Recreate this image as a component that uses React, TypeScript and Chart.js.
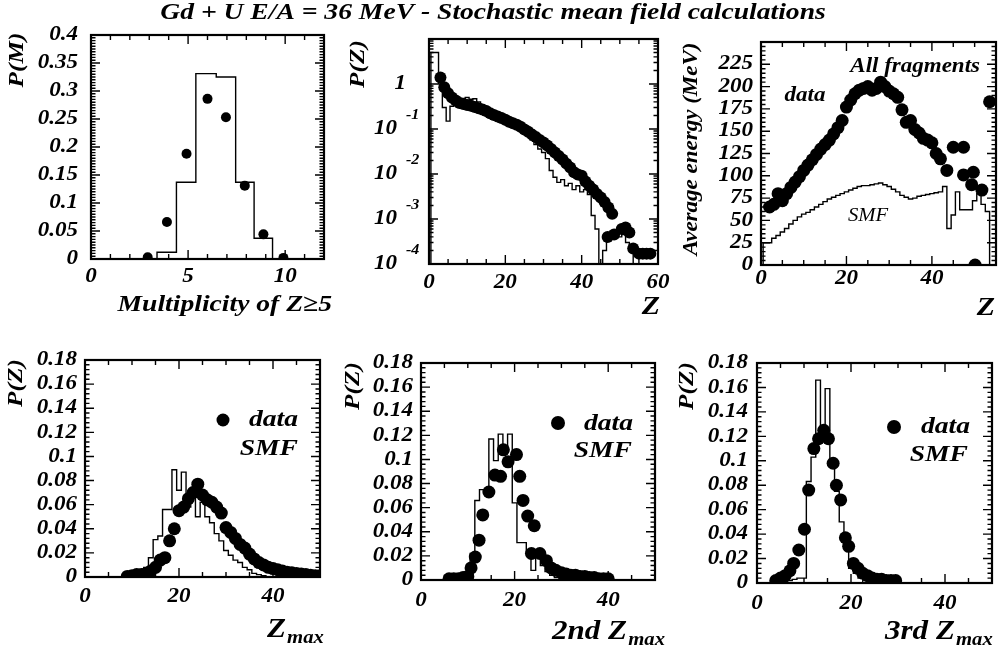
import React, { useEffect, useRef } from "react";
import { Chart, registerables } from "chart.js";
Chart.register(...registerables);

const W = 1005;
const H = 656;
const SERIF = '"Liberation Serif", "Times New Roman", serif';
const SX = 1.15;

// ---------- Panel 1 : multiplicity of Z>=5 ----------
const multM = [2.92, 3.91, 4.92, 6.0, 6.95, 7.92, 8.88, 9.91];
const multP = [0.003, 0.066, 0.188, 0.286, 0.253, 0.131, 0.044, 0.002];
const multSmfEdges = [3.4, 4.4, 5.4, 6.45, 7.45, 8.4, 9.35];
const multSmfP = [0.012, 0.137, 0.331, 0.325, 0.137, 0.037];
const p1XTicks = [0, 5, 10];
const p1XLabels = ["0", "5", "10"];
const p1YTicks = [0, 0.05, 0.1, 0.15, 0.2, 0.25, 0.3, 0.35, 0.4];
const p1YLabels = ["0", "0.05", "0.1", "0.15", "0.2", "0.25", "0.3", "0.35", "0.4"];

// ---------- Panel 2 : P(Z) log ----------
const chargeZ = [3, 4, 5, 6, 7, 8, 9, 10, 11, 12, 13, 14, 15, 16, 17, 18, 19, 20, 21, 22, 23, 24, 25, 26, 27, 28, 29, 30, 31, 32, 33, 34, 35, 36, 37, 38, 39, 40, 41, 42, 43, 44, 45, 46, 47, 48,
  46.8, 48.5, 50.5, 51.5, 52.5, 53.5, 55, 56, 57, 58];
const chargeP = [1.4, 0.85, 0.62, 0.5, 0.43, 0.38, 0.36, 0.34, 0.33, 0.31, 0.29, 0.27, 0.25, 0.225, 0.205, 0.19, 0.175, 0.16, 0.145, 0.135, 0.125, 0.112, 0.098, 0.087, 0.075, 0.066, 0.057, 0.05, 0.043, 0.036, 0.03, 0.025, 0.021, 0.017, 0.014, 0.011, 0.0098, 0.0092, 0.0068, 0.0055, 0.0045, 0.0036, 0.003, 0.0024, 0.0018, 0.0013,
  0.0004, 0.00045, 0.0006, 0.00065, 0.0005, 0.00022, 0.00017, 0.00017, 0.00017, 0.00017];
const chargeSmfZ = [1, 2, 3, 4, 5, 6, 7, 8, 9, 10, 11, 12, 13, 14, 15, 16, 17, 18, 19, 20, 21, 22, 23, 24, 25, 26, 27, 28, 29, 30, 31, 32, 33, 34, 35, 36, 37, 38, 39, 40, 41, 42, 43, 44, 45, 46, 47, 48, 49, 50, 51, 52, 53];
const chargeSmfP = [5.0, 5.0, 1.0, 0.3, 0.15, 0.32, 0.38, 0.45, 0.48, 0.5, 0.46, 0.47, 0.4, 0.34, 0.29, 0.25, 0.22, 0.2, 0.175, 0.16, 0.14, 0.125, 0.115, 0.1, 0.085, 0.07, 0.057, 0.045, 0.036, 0.03, 0.022, 0.012, 0.0085, 0.0065, 0.0075, 0.0055, 0.0062, 0.0045, 0.0055, 0.004, 0.0045, 0.0035, 0.0012, 0.0006, 0.0001, 0.0002, 0.0004, 0.0004, 0.0005, 0.0004, 0.00045, 0.0003, 0.0002];
const p2XTicks = [0, 20, 40, 60];
const p2XLabels = ["0", "20", "40", "60"];
const p2YTicks = [1, 0.1, 0.01, 0.001, 0.0001];
const p2YLabels = ["1", "10", "10", "10", "10"];
const p2YExp = ["", "-1", "-2", "-3", "-4"];

// ---------- Panel 3 : average energy ----------
const energyZ = [2, 3, 4, 5, 6, 7, 8, 9, 10, 11, 12, 13, 14, 15, 16, 17, 18, 19, 20, 21, 22, 23, 24, 25, 26, 27, 28, 29, 30, 31, 32, 33, 34, 35, 36, 37, 38, 39, 40, 41, 42, 43.5, 45, 47.4, 47.4, 49.7, 49.3, 51.7, 53.5, 50.1];
const energyE = [65, 68, 80, 72, 80, 87, 93, 99, 106, 112, 118, 124, 130, 135, 140, 147, 154, 162, 177, 185, 192, 196, 198, 200, 196, 198, 205, 200, 195, 192, 188, 174, 160, 162, 152, 148, 142, 140, 137, 125, 119, 106, 132, 132, 101, 104, 90, 84, 183, 0];
const energySmfZ = [1, 2, 3, 4, 5, 6, 7, 8, 9, 10, 11, 12, 13, 14, 15, 16, 17, 18, 19, 20, 21, 22, 23, 24, 25, 26, 27, 28, 29, 30, 31, 32, 33, 34, 35, 36, 37, 38, 39, 40, 41, 42, 43, 44, 45, 46, 47, 48, 49, 50, 51, 52, 53];
const energySmfE = [25, 25, 30, 33, 37, 41, 46, 50, 54, 57, 59, 62, 65, 68, 71, 74, 76, 78, 80, 82, 84, 86, 88, 89, 89, 90, 91, 92, 90, 88, 85, 82, 78, 76, 74, 75, 77, 78, 79, 80, 81, 82, 88, 41, 56, 82, 62, 62, 62, 72, 80, 68, 60];
const p3XTicks = [0, 20, 40];
const p3XLabels = ["0", "20", "40"];
const p3YTicks = [0, 25, 50, 75, 100, 125, 150, 175, 200, 225];
const p3YLabels = ["0", "25", "50", "75", "100", "125", "150", "175", "200", "225"];

// ---------- Panel 4 : Zmax ----------
const zmaxZ = [9, 10, 11, 12, 13, 14, 15, 16, 17, 18, 19, 20, 21, 22, 23, 24, 25, 26, 27, 28, 29, 30, 31, 32, 33, 34, 35, 36, 37, 38, 39, 40, 41, 42, 43, 44, 45, 46, 47, 48, 49, 50];
const zmaxP = [0.0005, 0.001, 0.002, 0.002, 0.003, 0.005, 0.008, 0.014, 0.016, 0.03, 0.04, 0.055, 0.058, 0.065, 0.07, 0.077, 0.068, 0.064, 0.062, 0.058, 0.053, 0.041, 0.037, 0.032, 0.027, 0.024, 0.019, 0.015, 0.012, 0.01, 0.008, 0.007, 0.006, 0.005, 0.004, 0.0035, 0.003, 0.0025, 0.002, 0.0015, 0.001, 0.001];
const zmaxSmfZ = [9, 10, 11, 12, 13, 14, 15, 16, 17, 18, 19, 20, 21, 22, 23, 24, 25, 26, 27, 28, 29, 30, 31, 32, 33, 34, 35, 36, 37, 38];
const zmaxSmfP = [0.001, 0.002, 0.002, 0.004, 0.008, 0.016, 0.031, 0.034, 0.056, 0.056, 0.089, 0.072, 0.087, 0.058, 0.066, 0.05, 0.062, 0.05, 0.045, 0.036, 0.03, 0.022, 0.018, 0.014, 0.012, 0.008, 0.006, 0.003, 0.002, 0.001];

// ---------- Panel 5 : 2nd Zmax ----------
const zmax2Z = [6, 7, 8, 9, 10, 10.7, 11.6, 12.4, 13.2, 14.5, 15.8, 17.0, 17.6, 18.6, 20.4, 21.1, 21.8, 22.8, 24.2, 23.6, 25.4, 26.8, 27.8, 28.8, 30, 31, 32, 33, 34, 35, 36, 37, 38, 39, 40];
const zmax2P = [0.001, 0.001, 0.001, 0.002, 0.003, 0.01, 0.019, 0.033, 0.054, 0.073, 0.087, 0.086, 0.108, 0.098, 0.104, 0.086, 0.066, 0.053, 0.045, 0.022, 0.022, 0.016, 0.01, 0.008, 0.006, 0.005, 0.004, 0.004, 0.003, 0.003, 0.002, 0.002, 0.001, 0.001, 0.001];
const zmax2SmfZ = [9, 10, 11, 12, 13, 14, 15, 16, 17, 18, 19, 20, 21, 22, 23, 24, 25, 26, 27, 28, 29, 30];
const zmax2SmfP = [0.001, 0.002, 0.022, 0.066, 0.075, 0.075, 0.117, 0.099, 0.121, 0.106, 0.121, 0.064, 0.031, 0.031, 0.022, 0.008, 0.02, 0.012, 0.007, 0.004, 0.002, 0.001];

// ---------- Panel 6 : 3rd Zmax ----------
const zmax3Z = [4, 5, 6, 7, 7.8, 8.9, 10.1, 11, 12.1, 13.1, 14.2, 15.2, 16.2, 16.9, 17.8, 18.8, 19.5, 20.5, 21.5, 22.5, 23.5, 24.5, 25.5, 26.5, 27.5, 28.5, 29.5];
const zmax3P = [0.002, 0.004, 0.006, 0.01, 0.016, 0.027, 0.044, 0.076, 0.11, 0.118, 0.125, 0.118, 0.098, 0.08, 0.068, 0.037, 0.03, 0.016, 0.012, 0.008, 0.006, 0.004, 0.003, 0.003, 0.002, 0.002, 0.002];
const zmax3SmfZ = [5, 6, 7, 8, 9, 10, 11, 12, 13, 14, 15, 16, 17, 18, 19, 20, 21, 22];
const zmax3SmfP = [0.001, 0.001, 0.002, 0.003, 0.004, 0.004, 0.083, 0.103, 0.166, 0.128, 0.159, 0.1, 0.075, 0.05, 0.03, 0.012, 0.008, 0.004];

const zXTicks = [0, 20, 40];
const zXLabels = ["0", "20", "40"];
const zYTicks = [0, 0.02, 0.04, 0.06, 0.08, 0.1, 0.12, 0.14, 0.16, 0.18];
const zYLabels = ["0", "0.02", "0.04", "0.06", "0.08", "0.1", "0.12", "0.14", "0.16", "0.18"];

// ---------- helpers ----------
function pts(xs: number[], ys: number[]) {
  return xs.map((x, i) => ({ x, y: ys[i] }));
}
function stepEdges(edges: number[], vals: number[], base: number) {
  const out = [{ x: edges[0], y: base }];
  vals.forEach((v, i) => out.push({ x: edges[i], y: v }));
  out.push({ x: edges[edges.length - 1], y: base });
  return out;
}
function stepCentres(cs: number[], vals: number[], base: number) {
  const edges = cs.map((c) => c - 0.5);
  edges.push(cs[cs.length - 1] + 0.5);
  return stepEdges(edges, vals, base);
}
function dotSet(data: any[], r: number) {
  return { type: "scatter", data, pointRadius: r, pointHoverRadius: r, pointBackgroundColor: "#000", pointBorderColor: "#000", pointBorderWidth: 0, showLine: false, order: 0 };
}
function histSet(data: any[]) {
  return { type: "line", data, stepped: true, borderColor: "#000", borderWidth: 1.4, pointRadius: 0, fill: false, tension: 0, order: 1 };
}

type Txt = { s: string; x: number; y: number; size: number; align?: CanvasTextAlign; rot?: boolean; weight?: string; sub?: string; subSize?: number };

function font(size: number, weight = "bold") {
  return `italic ${weight} ${size}px ${SERIF}`;
}
function drawTxt(ctx: CanvasRenderingContext2D, t: Txt) {
  ctx.save();
  ctx.fillStyle = "#000";
  ctx.translate(t.x, t.y);
  if (t.rot) ctx.rotate(-Math.PI / 2);
  ctx.scale(SX, 1);
  ctx.font = font(t.size, t.weight || "bold");
  ctx.textBaseline = "middle";
  if (t.sub) {
    ctx.textAlign = "left";
    ctx.fillText(t.s, 0, 0);
    const w = ctx.measureText(t.s).width;
    ctx.font = font(t.subSize || 16, t.weight || "bold");
    ctx.fillText(t.sub, w + 1, t.size * 0.3);
  } else {
    ctx.textAlign = t.align || "center";
    ctx.fillText(t.s, 0, 0);
  }
  ctx.restore();
}

type Axis = { min: number; max: number; minor: number; major: number; log?: boolean };
type Cfg = {
  area: { l: number; t: number; r: number; b: number };
  x: Axis;
  y: Axis;
  xTicks: number[];
  xLabels: string[];
  xLabelDy: number;
  yTicks: number[];
  yLabels: string[];
  yLabelDx: number;
  yExp?: string[];
  texts: Txt[];
  legendDot?: { x: number; y: number; r: number };
  datasets: any[];
};

function tickValues(a: Axis) {
  const out: { v: number; major: boolean }[] = [];
  if (a.log) {
    for (let e = Math.round(Math.log10(a.min)); e < Math.round(Math.log10(a.max)); e++) {
      for (let k = 1; k <= 9; k++) out.push({ v: k * Math.pow(10, e), major: k === 1 });
    }
    out.push({ v: a.max, major: true });
    return out;
  }
  const n = Math.round((a.max - a.min) / a.minor);
  for (let i = 0; i <= n; i++) {
    const v = a.min + i * a.minor;
    const q = v / a.major;
    out.push({ v, major: Math.abs(q - Math.round(q)) < 1e-6 });
  }
  return out;
}

function decoPlugin(cfg: Cfg) {
  return {
    id: "deco",
    afterDatasetsDraw(chart: any) {
      const ctx: CanvasRenderingContext2D = chart.ctx;
      const { left, top, right, bottom } = chart.chartArea;
      const xs = chart.scales.x;
      const ys = chart.scales.y;
      ctx.save();
      ctx.strokeStyle = "#000";
      ctx.lineWidth = 1.4;
      ctx.beginPath();
      for (const t of tickValues(cfg.x)) {
        const px = xs.getPixelForValue(t.v);
        if (px < left - 0.5 || px > right + 0.5) continue;
        const len = t.major ? 9 : 5;
        ctx.moveTo(px, bottom);
        ctx.lineTo(px, bottom - len);
        ctx.moveTo(px, top);
        ctx.lineTo(px, top + len);
      }
      for (const t of tickValues(cfg.y)) {
        const py = ys.getPixelForValue(t.v);
        if (py < top - 0.5 || py > bottom + 0.5) continue;
        const len = t.major ? 9 : 4.5;
        ctx.moveTo(left, py);
        ctx.lineTo(left + len, py);
        ctx.moveTo(right, py);
        ctx.lineTo(right - len, py);
      }
      ctx.stroke();
      ctx.lineWidth = 2.2;
      ctx.strokeRect(left, top, right - left, bottom - top);

      // tick labels
      cfg.xTicks.forEach((v, i) => {
        drawTxt(ctx, { s: cfg.xLabels[i], x: xs.getPixelForValue(v), y: bottom + cfg.xLabelDy, size: 20 });
      });
      cfg.yTicks.forEach((v, i) => {
        const py = ys.getPixelForValue(v);
        if (cfg.yExp) {
          const e = cfg.yExp[i];
          if (e === "") {
            drawTxt(ctx, { s: cfg.yLabels[i], x: left - 23, y: py, size: 20, align: "right" });
          } else {
            drawTxt(ctx, { s: cfg.yLabels[i], x: left + cfg.yLabelDx, y: py, size: 20, align: "right" });
            drawTxt(ctx, { s: e, x: left - 23, y: py - 14, size: 14, align: "left" });
          }
        } else {
          drawTxt(ctx, { s: cfg.yLabels[i], x: left + cfg.yLabelDx, y: py, size: 20, align: "right" });
        }
      });
      if (cfg.legendDot) {
        ctx.fillStyle = "#000";
        ctx.beginPath();
        ctx.arc(cfg.legendDot.x, cfg.legendDot.y, cfg.legendDot.r, 0, Math.PI * 2);
        ctx.fill();
      }
      cfg.texts.forEach((t) => drawTxt(ctx, t));
      ctx.restore();
    },
  };
}

const panels: Cfg[] = [
  {
    area: { l: 91, t: 35, r: 324, b: 259 },
    x: { min: 0, max: 12, minor: 1, major: 5 },
    y: { min: 0, max: 0.4, minor: 0.005, major: 0.05 },
    xTicks: p1XTicks, xLabels: p1XLabels, xLabelDy: 18,
    yTicks: p1YTicks, yLabels: p1YLabels, yLabelDx: -13,
    texts: [
      { s: "Gd + U E/A = 36 MeV - Stochastic mean field calculations", x: 493, y: 13, size: 24 },
      { s: "Multiplicity of Z\u22655", x: 332, y: 305, size: 24, align: "right" },
      { s: "P(M)", x: 17, y: 60, size: 22, rot: true },
    ],
    datasets: [dotSet(pts(multM, multP), 5), histSet(stepEdges(multSmfEdges, multSmfP, 0))],
  },
  {
    area: { l: 429, t: 39, r: 658, b: 264 },
    x: { min: 0, max: 60, minor: 5, major: 20 },
    y: { min: 0.0001, max: 10, minor: 1, major: 1, log: true },
    xTicks: p2XTicks, xLabels: p2XLabels, xLabelDy: 19,
    yTicks: p2YTicks, yLabels: p2YLabels, yLabelDx: -32, yExp: p2YExp,
    texts: [
      { s: "P(Z)", x: 358, y: 64, size: 22, rot: true },
      { s: "Z", x: 660, y: 307, size: 26, align: "right" },
    ],
    datasets: [dotSet(pts(chargeZ, chargeP), 6), histSet(stepCentres(chargeSmfZ, chargeSmfP, 0.0001))],
  },
  {
    area: { l: 761, t: 42, r: 996, b: 265 },
    x: { min: 0, max: 55, minor: 5, major: 20 },
    y: { min: 0, max: 250, minor: 5, major: 25 },
    xTicks: p3XTicks, xLabels: p3XLabels, xLabelDy: 14,
    yTicks: p3YTicks, yLabels: p3YLabels, yLabelDx: -8,
    texts: [
      { s: "Average energy (MeV)", x: 692, y: 149, size: 20, rot: true },
      { s: "Z", x: 995, y: 308, size: 26, align: "right" },
      { s: "All fragments", x: 980, y: 67, size: 20, align: "right" },
      { s: "data", x: 805, y: 96, size: 20 },
      { s: "SMF", x: 868, y: 216, size: 18, weight: "normal" },
    ],
    datasets: [dotSet(pts(energyZ, energyE), 6.5), histSet(stepCentres(energySmfZ, energySmfE, 0))],
  },
  {
    area: { l: 85, t: 360, r: 320, b: 577 },
    x: { min: 0, max: 50, minor: 5, major: 20 },
    y: { min: 0, max: 0.18, minor: 0.004, major: 0.02 },
    xTicks: zXTicks, xLabels: zXLabels, xLabelDy: 20,
    yTicks: zYTicks, yLabels: zYLabels, yLabelDx: -8,
    texts: [
      { s: "P(Z)", x: 16, y: 383, size: 22, rot: true },
      { s: "Z", sub: "max", x: 267, y: 630, size: 27, subSize: 18 },
      { s: "data", x: 298, y: 420, size: 24, align: "right" },
      { s: "SMF", x: 298, y: 449, size: 24, align: "right" },
    ],
    legendDot: { x: 223, y: 420, r: 6.5 },
    datasets: [dotSet(pts(zmaxZ, zmaxP), 6.5), histSet(stepCentres(zmaxSmfZ, zmaxSmfP, 0))],
  },
  {
    area: { l: 421, t: 363, r: 655, b: 580 },
    x: { min: 0, max: 50, minor: 5, major: 20 },
    y: { min: 0, max: 0.18, minor: 0.004, major: 0.02 },
    xTicks: zXTicks, xLabels: zXLabels, xLabelDy: 21,
    yTicks: zYTicks, yLabels: zYLabels, yLabelDx: -8,
    texts: [
      { s: "P(Z)", x: 353, y: 386, size: 22, rot: true },
      { s: "2nd Z", sub: "max", x: 552, y: 632, size: 27, subSize: 18 },
      { s: "data", x: 633, y: 424, size: 24, align: "right" },
      { s: "SMF", x: 632, y: 451, size: 24, align: "right" },
    ],
    legendDot: { x: 558, y: 423, r: 7 },
    datasets: [dotSet(pts(zmax2Z, zmax2P), 6.5), histSet(stepCentres(zmax2SmfZ, zmax2SmfP, 0))],
  },
  {
    area: { l: 757, t: 363, r: 992, b: 583 },
    x: { min: 0, max: 50, minor: 5, major: 20 },
    y: { min: 0, max: 0.18, minor: 0.004, major: 0.02 },
    xTicks: zXTicks, xLabels: zXLabels, xLabelDy: 21,
    yTicks: zYTicks, yLabels: zYLabels, yLabelDx: -9,
    texts: [
      { s: "P(Z)", x: 687, y: 386, size: 22, rot: true },
      { s: "3rd Z", sub: "max", x: 885, y: 632, size: 27, subSize: 18 },
      { s: "data", x: 970, y: 427, size: 24, align: "right" },
      { s: "SMF", x: 968, y: 455, size: 24, align: "right" },
    ],
    legendDot: { x: 894, y: 427, r: 7 },
    datasets: [dotSet(pts(zmax3Z, zmax3P), 6.5), histSet(stepCentres(zmax3SmfZ, zmax3SmfP, 0))],
  },
];

function Panel({ cfg }: { cfg: Cfg }) {
  const ref = useRef<HTMLCanvasElement>(null);
  useEffect(() => {
    const { l, t, r, b } = cfg.area;
    const chart = new Chart(ref.current as HTMLCanvasElement, {
      type: "scatter",
      data: { datasets: cfg.datasets as any },
      options: {
        animation: false,
        responsive: false,
        devicePixelRatio: 1,
        events: [],
        layout: { padding: { left: l, top: t, right: W - r, bottom: H - b } },
        plugins: { legend: { display: false }, tooltip: { enabled: false }, title: { display: false } },
        scales: {
          x: { type: "linear", min: cfg.x.min, max: cfg.x.max, display: false },
          y: { type: cfg.y.log ? "logarithmic" : "linear", min: cfg.y.min, max: cfg.y.max, display: false },
        },
      },
      plugins: [decoPlugin(cfg)],
    } as any);
    return () => chart.destroy();
  }, [cfg]);
  return <canvas ref={ref} width={W} height={H} style={{ position: "absolute", left: 0, top: 0, width: W, height: H }} />;
}

export default function App() {
  return (
    <div style={{ position: "fixed", left: 0, top: 0, width: W, height: H, background: "#fff", overflow: "hidden" }}>
      {panels.map((p, i) => (
        <Panel key={i} cfg={p} />
      ))}
    </div>
  );
}
